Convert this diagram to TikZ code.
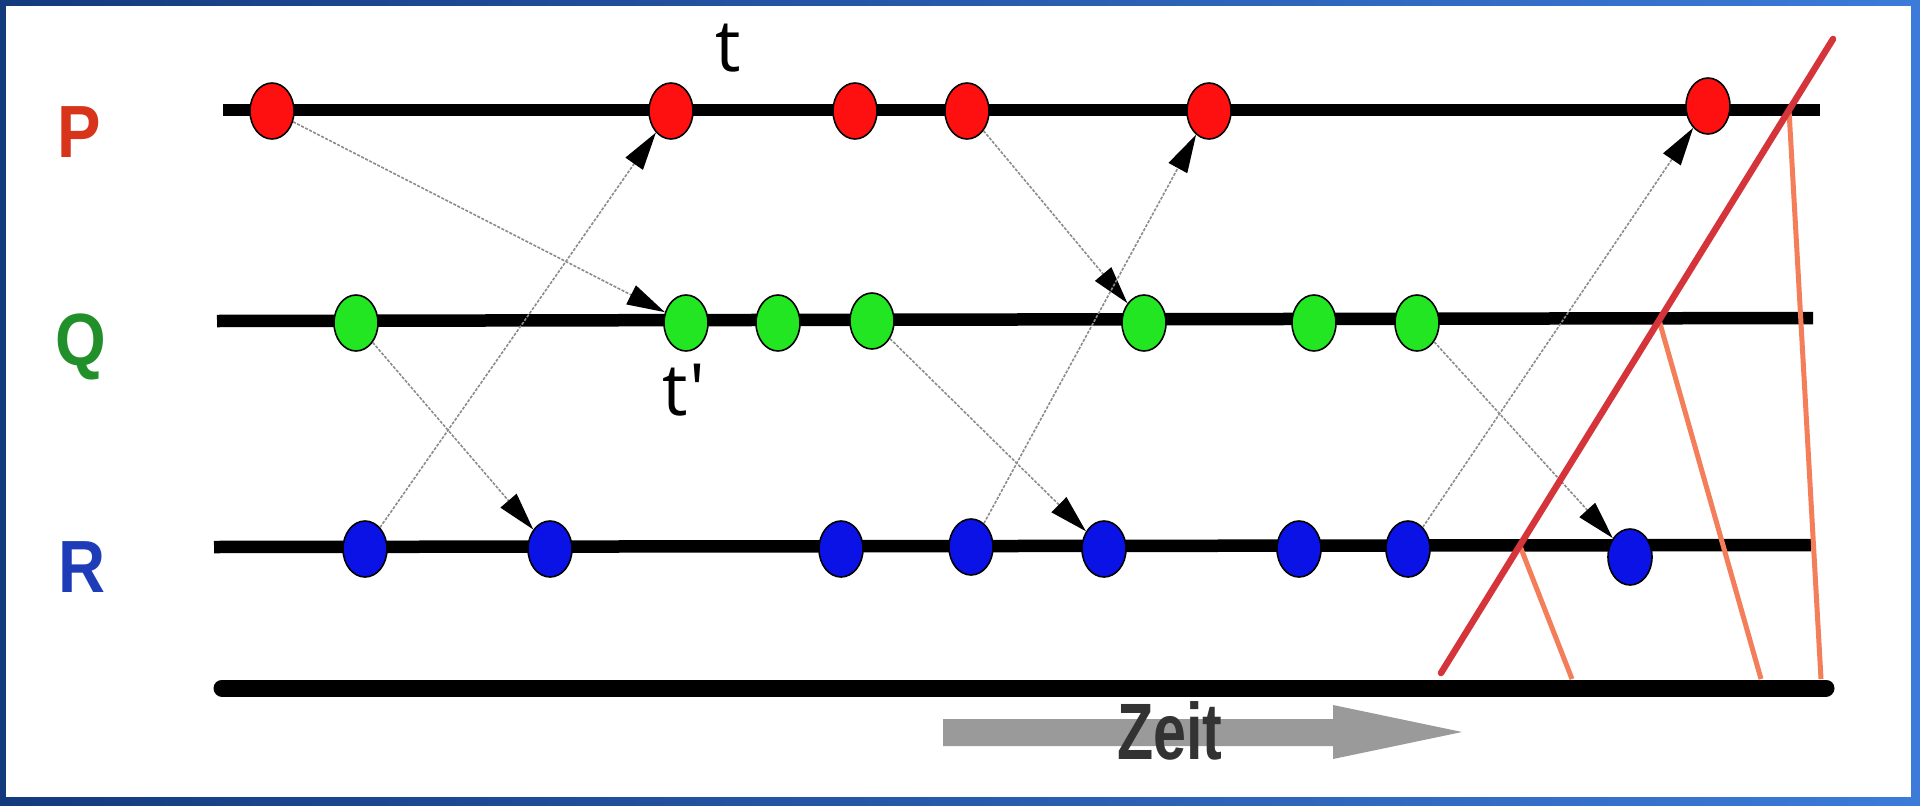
\documentclass[tikz,border=0pt]{standalone}
\usepackage{fontspec}
\setmainfont{Liberation Sans}
\newfontfamily\tfont{Open Sans}
\usetikzlibrary{shapes.geometric,arrows.meta}
\definecolor{frameL}{HTML}{143A7E}
\definecolor{frameR}{HTML}{3C7BDA}
\definecolor{pred}{HTML}{FF1010}
\definecolor{qgreen}{HTML}{22E622}
\definecolor{rblue}{HTML}{0A12E6}
\definecolor{plab}{HTML}{D8341C}
\definecolor{qlab}{HTML}{22902A}
\definecolor{rlab}{HTML}{1E3CB8}
\definecolor{msggray}{HTML}{8C8C8C}
\definecolor{cutred}{HTML}{D4343A}
\definecolor{cutorange}{HTML}{F47E5A}
\definecolor{zeitgray}{HTML}{9A9A9A}
\definecolor{zeittext}{HTML}{333333}
\tikzset{
  evdot/.style={ellipse, minimum width=44pt, minimum height=56pt, inner sep=0pt, draw=black, line width=1.6pt},
  pdot/.style={evdot, fill=pred},
  qdot/.style={evdot, fill=qgreen},
  rdot/.style={evdot, fill=rblue},
  procline/.style={line width=12.5pt, black},
  msg/.style={draw=msggray, line width=1.6pt, dash pattern=on 3pt off 1.5pt,
    -{Triangle[length=38pt,width=21pt,black]}},
  proclabel/.style={font=\fontsize{74}{80}\selectfont\bfseries, inner sep=0pt, xscale=0.88},
  tlabel/.style={font=\tfont\fontsize{72}{80}\selectfont, inner sep=0pt},
  cutline/.style={cutred, line width=6.5pt, line cap=round},
  cutproj/.style={cutorange, line width=5pt},
}
\begin{document}
\begin{tikzpicture}[x=1pt,y=-1pt]
\useasboundingbox (0,0) rectangle (1920,806);
% frame
\shade[left color=frameL, right color=frameR] (0,0) rectangle (1920,806);
\fill[white] (6,6) rectangle (1911,797);

% process lines
\draw[procline] (223,110) -- (1820,110);
\draw[procline] (217,321) -- (1813,318);
\draw[procline] (214,547) -- (1811,545);
\draw[line width=17pt, line cap=round] (222,688) -- (1826,688);

% labels
\node[proclabel, text=plab] (lP) at (79,132) {P};
\node[proclabel, text=qlab] (lQ) at (81,347) {Q};
\node[proclabel, text=rlab] (lR) at (82,567) {R};

% events
\node[pdot] (p1) at (272,111) {};
\node[pdot] (p2) at (671,111) {};
\node[pdot] (p3) at (855,111) {};
\node[pdot] (p4) at (967,111) {};
\node[pdot] (p5) at (1209,111) {};
\node[pdot] (p6) at (1708,106) {};

\node[qdot] (q1) at (356,323) {};
\node[qdot] (q2) at (686,323) {};
\node[qdot] (q3) at (778,323) {};
\node[qdot] (q4) at (872,321) {};
\node[qdot] (q5) at (1144,323) {};
\node[qdot] (q6) at (1314,323) {};
\node[qdot] (q7) at (1417,323) {};

\node[rdot] (r1) at (365,549) {};
\node[rdot] (r2) at (550,549) {};
\node[rdot] (r3) at (841,549) {};
\node[rdot] (r4) at (971,547) {};
\node[rdot] (r5) at (1104,549) {};
\node[rdot] (r6) at (1299,549) {};
\node[rdot] (r7) at (1408,549) {};
\node[rdot] (r8) at (1630,557) {};

% t labels
\node[tlabel] (t) at (728,48) {t};
\node[tlabel] (tp) at (684,390) {t'};

% messages
\draw[msg] (p1) -- (q2);
\draw[msg] (q1) -- (r2);
\draw[msg] (r1) -- (p2);
\draw[msg] (p4) -- (q5);
\draw[msg] (q4) -- (r5);
\draw[msg] (r4) -- (p5);
\draw[msg] (q7) -- (r8);
\draw[msg] (r7) -- (p6);

% cut
\coordinate (cb) at (1441,673);
\coordinate (ct) at (1833,39);
\coordinate (cp) at (1789,110);
\coordinate (cq) at (1659,320);
\coordinate (cr) at (1520,546);
\coordinate (bp) at (1821,679);
\coordinate (bq) at (1761,679);
\coordinate (br) at (1572,679);
\draw[cutproj] (cp) -- (bp);
\draw[cutproj] (cq) -- (bq);
\draw[cutproj] (cr) -- (br);
\draw[cutline] (cb) -- (ct);

% Zeit arrow
\fill[zeitgray] (943,719) -- (1333,719) -- (1333,705) -- (1462,732) -- (1333,759) -- (1333,746) -- (943,746) -- cycle;
\node[font=\fontsize{80}{90}\selectfont\bfseries, text=zeittext, inner sep=0pt, xscale=0.74] (zeit) at (1170,731) {Zeit};
\end{tikzpicture}
\end{document}
